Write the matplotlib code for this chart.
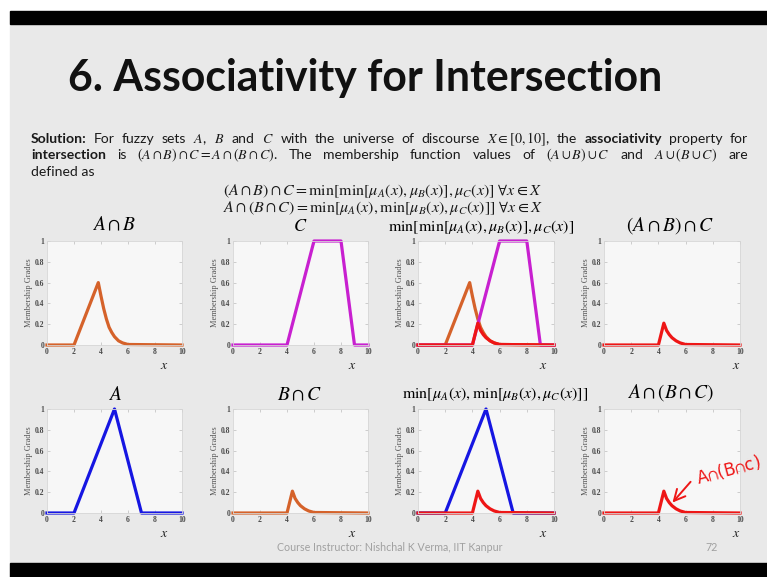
import matplotlib
matplotlib.use('Agg')
import numpy as np
import matplotlib.pyplot as plt
from matplotlib.patches import Rectangle

plt.rcParams['mathtext.fontset'] = 'stix'

# membership functions
x_A = [0, 2, 5, 7, 10]
mu_A = [0, 0, 1, 0, 0]
x_C = [0, 4, 6, 8, 9, 10]
mu_C = [0, 0, 1, 1, 0, 0]
x_AB = [0, 2, 3.8, 4.0, 4.2, 4.4, 4.6, 4.8, 5.0, 5.3, 5.6, 6.0, 10]
mu_AB = [0, 0, 0.6, 0.47, 0.35, 0.25, 0.17, 0.12, 0.08, 0.04, 0.02, 0.005, 0]
x_BC = [0, 4.0, 4.4, 4.6, 4.8, 5.0, 5.3, 5.6, 6.0, 10]
mu_BC = [0, 0, 0.21, 0.14, 0.1, 0.07, 0.04, 0.02, 0.005, 0]

xticks = [0, 2, 4, 6, 8, 10]
yticks = [0, 0.2, 0.4, 0.6, 0.8, 1]
ytick_labels = ['0', '0.2', '0.4', '0.6', '0.8', '1']

c_orange = '#d5622a'
c_magenta = '#c820d0'
c_blue = '#1616e2'
c_red = '#ee1616'

W, H = 767, 577
def fx(p): return p / W
def fy(p): return 1 - p / H

fig = plt.figure(figsize=(W / 100, H / 100), dpi=100)
fig.patch.set_facecolor('white')
# slide background and the black bars of the video frame
fig.patches.append(Rectangle((fx(10), fy(563)), fx(W) - fx(10), fy(24) - fy(563),
                             transform=fig.transFigure, color='#e9e9e9', zorder=-2))
fig.patches.append(Rectangle((fx(10), fy(24)), 1 - fx(10), fy(11) - fy(24),
                             transform=fig.transFigure, color='black', zorder=-2))
fig.patches.append(Rectangle((fx(10), 0), 1 - fx(10), fy(563),
                             transform=fig.transFigure, color='black', zorder=-2))

fig.text(fx(68), fy(91), '6. Associativity for Intersection', fontsize=30.8,
         fontweight='bold', family='Lato', va='baseline', color='#111111')

renderer = fig.canvas.get_renderer()

def put_line(tokens, x0, x1, y, size, justify=True):
    objs = [fig.text(fx(x0), fy(y), s, fontsize=size, fontweight=w, family='Lato',
                     va='baseline', color='#1a1a1a') for s, w in tokens]
    widths = [t.get_window_extent(renderer).width for t in objs]
    gap = (x1 - x0 - sum(widths)) / (len(objs) - 1) if justify and len(objs) > 1 else 3
    x = x0
    for t, wd in zip(objs, widths):
        t.set_x(fx(x))
        x += wd + gap

line1 = [('Solution:', 'bold'), ('For', 'normal'), ('fuzzy', 'normal'), ('sets', 'normal'),
         ('$A$,', 'normal'), ('$B$', 'normal'), ('and', 'normal'), ('$C$', 'normal'),
         ('with', 'normal'), ('the', 'normal'), ('universe', 'normal'), ('of', 'normal'),
         ('discourse', 'normal'), (r'$X\in[0,10]$,', 'normal'), ('the', 'normal'),
         ('associativity', 'bold'), ('property', 'normal'), ('for', 'normal')]
line2 = [('intersection', 'bold'), ('is', 'normal'),
         (r'$(A\cap B)\cap C=A\cap(B\cap C)$.', 'normal'), ('The', 'normal'),
         ('membership', 'normal'), ('function', 'normal'), ('values', 'normal'),
         ('of', 'normal'), (r'$(A\cup B)\cup C$', 'normal'), ('and', 'normal'),
         (r'$A\cup(B\cup C)$', 'normal'), ('are', 'normal')]
put_line(line1, 31, 748, 143, 10.1)
put_line(line2, 31, 748, 159, 10.1)
put_line([('defined as', 'normal')], 31, 748, 176, 10.1, justify=False)

fig.text(fx(223), fy(195), r'$(A\cap B)\cap C=\min[\min[\mu_A(x),\mu_B(x)],\mu_C(x)]\ \forall x\in X$',
         fontsize=11.5, va='baseline', color='#1a1a1a')
fig.text(fx(223), fy(212), r'$A\cap(B\cap C)=\min[\mu_A(x),\min[\mu_B(x),\mu_C(x)]]\ \forall x\in X$',
         fontsize=11.5, va='baseline', color='#1a1a1a')

cols = [(47, 182), (233, 368), (418, 554), (604, 740)]
rows = [(241, 345), (409, 513)]
xlab_frac = [0.87, 0.88, 0.92, 0.97]

axes = {}
for r, (top, bot) in enumerate(rows):
    for c, (left, right) in enumerate(cols):
        ax = fig.add_axes([fx(left), fy(bot), fx(right) - fx(left), fy(top) - fy(bot)])
        ax.set_facecolor('#f7f7f7')
        ax.set_xlim(0, 10)
        ax.set_ylim(0, 1)
        ax.set_xticks(xticks)
        ax.set_yticks(yticks)
        ax.set_yticklabels(ytick_labels)
        ax.tick_params(direction='in', length=2, width=0.5, color='#bbbbbb', labelsize=5.5,
                       labelcolor='#4a4a4a', pad=2, top=True, right=True)
        for lab in ax.get_xticklabels() + ax.get_yticklabels():
            lab.set_family('Liberation Serif')
            lab.set_fontweight('bold')
        for s in ax.spines.values():
            s.set_color('#d6d6d6')
            s.set_linewidth(0.6)
        ax.set_ylabel('Membership Grades', family='Liberation Serif', fontsize=6,
                      color='#555555', labelpad=1.5)
        ax.text(xlab_frac[c], -0.19, '$x$', transform=ax.transAxes, fontsize=10,
                ha='center', va='center', color='#222222')
        axes[r, c] = ax

lw = 2.3
axes[0, 0].plot(x_AB, mu_AB, color=c_orange, lw=lw, clip_on=False)
axes[0, 1].plot(x_C, mu_C, color=c_magenta, lw=lw, clip_on=False)
axes[0, 2].plot(x_AB, mu_AB, color=c_orange, lw=lw, clip_on=False)
axes[0, 2].plot(x_C, mu_C, color=c_magenta, lw=lw, clip_on=False)
axes[0, 2].plot(x_BC, mu_BC, color=c_red, lw=lw, clip_on=False)
axes[0, 3].plot(x_BC, mu_BC, color=c_red, lw=lw, clip_on=False)
axes[1, 0].plot(x_A, mu_A, color=c_blue, lw=lw, clip_on=False)
axes[1, 1].plot(x_BC, mu_BC, color=c_orange, lw=lw, clip_on=False)
axes[1, 2].plot(x_A, mu_A, color=c_blue, lw=lw, clip_on=False)
axes[1, 2].plot(x_BC, mu_BC, color=c_red, lw=lw, clip_on=False)
axes[1, 3].plot(x_BC, mu_BC, color=c_red, lw=lw, clip_on=False)

# panel titles
big = 14
fig.text(fx(114), fy(230), r'$A\cap B$', fontsize=big, ha='center', va='baseline')
fig.text(fx(300), fy(231), r'$C$', fontsize=13, ha='center', va='baseline')
fig.text(fx(481), fy(231), r'$\min\left[\min[\mu_A(x),\mu_B(x)],\mu_C(x)\right]$',
         fontsize=11.5, ha='center', va='baseline')
fig.text(fx(670), fy(231), r'$(A\cap B)\cap C$', fontsize=big, ha='center', va='baseline')
fig.text(fx(115), fy(400), r'$A$', fontsize=big, ha='center', va='baseline')
fig.text(fx(300), fy(400), r'$B\cap C$', fontsize=big, ha='center', va='baseline')
fig.text(fx(495), fy(398), r'$\min[\mu_A(x),\min[\mu_B(x),\mu_C(x)]]$',
         fontsize=11.5, ha='center', va='baseline')
fig.text(fx(671), fy(398), r'$A\cap(B\cap C)$', fontsize=big, ha='center', va='baseline')

# handwritten note
axes[1, 3].annotate('', xy=(4.9, 0.08), xytext=(6.5, 0.32),
                    arrowprops=dict(arrowstyle='->', color=c_red, lw=1.4, mutation_scale=20),
                    annotation_clip=False)
fig.text(fx(728), fy(470), r'A$\cap$(B$\cap$c)', fontsize=12, color=c_red, rotation=15,
         ha='center', va='center', family='DejaVu Sans')

fig.text(fx(277), fy(551), 'Course Instructor: Nishchal K Verma, IIT Kanpur', fontsize=7.7,
         family='Lato', color='#a0a0a0', va='baseline')
fig.text(fx(705), fy(551), '72', fontsize=7.7, family='Lato', color='#a0a0a0', va='baseline')

fig.savefig('out.png', dpi=100, facecolor=fig.get_facecolor())
